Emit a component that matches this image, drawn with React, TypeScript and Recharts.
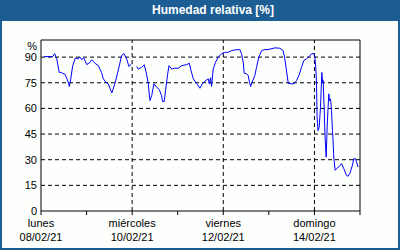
import React from "react";
import { LineChart, Line, XAxis, YAxis, ReferenceLine } from "recharts";

// hours since lunes 08/02/21 00:00
const hours = [
  1.6, 6.2, 7.2, 8.3, 9.6, 10.4, 12.6, 13.8, 14.6, 14.9, 15.6, 16.7, 18.1, 19.6, 20.5, 21.4, 22.6,
  24.1, 25.8, 26.7, 28.4, 30.2, 31.9, 32.8, 34.2, 35.4, 37.3, 38.9, 40.4, 42.5, 43.7, 45.1, 46.3,
  47.7, 49, 50.4, 51.2, 53, 54.4, 55.6, 56.5, 57, 57.4, 58.3, 59.5, 60.9, 62.3, 63.5, 64, 64.9,
  65.6, 66.7, 67.4, 68.8, 70.2, 72.3, 74.1, 76.7, 78.1, 78.8, 80.2, 81.9, 83.7, 85.1, 86.3, 88.1,
  88.6, 89.3, 89.8, 90.7, 91.9, 93.3, 95.1, 96.8, 98.6, 100.4, 102.1, 104.7, 105.6, 106.5, 107,
  108.3, 109.1, 109.8, 110.4, 111.2, 112.6, 113.5, 114.7, 116.2, 117.9, 119.6, 123.2, 125.8,
  127.5, 128.4, 129.3, 130.2, 131.6, 133.3, 134.6, 135.8, 137.2, 138.4, 139.8, 141.2, 142.5,
  143.7, 144.2, 144.7, 145.1, 145.4, 145.9, 146.5, 147.2, 147.9, 148.3, 148.6, 149.1, 149.6,
  150.2, 150.7, 151.2, 151.6, 151.9, 152.5, 153, 153.5, 153.8, 154.2, 154.9, 155.6, 157, 158.3,
  159.5, 160.9, 161.7, 162.6, 164, 164.7, 165.6, 166.2, 167,
];

const humidity: (number | null)[] = [
  90.3, 90.3, 92, 89, 81, 81, 80, 77, 74.4, 72.8, 76.7, 85, 89.5, 89, 90, 88.5, 89.5,
  85.6, 87, 88.4, 86.4, 85, 81, 77.3, 75.3, 74.4, 69, 74.4, 81, 91, 92, 89, 84.5,
  86, null, 84.5, 83, 84, 85.5, 80, 74.4, 68.5, 64.6, 67.5, 74.4, 72.4, 71, 67.5, 64, 64,
  70.5, 80, 85, 83, 83.5, 83.5, 85, 85.6, 86.4, 83, 77.3, 74.7, 71.8, 74.7, 75.9, 77.3,
  74.4, 77.9, 72.8, 83, 87, 90, 92, 92.8, 92.8, 93.8, 94.2, 94.4, 92, 87, 80.6,
  80.2, 79.2, 75.3, 72.8, 75.3, 79.2, 84, 90, 93.8, 94.4, 94.4, 95.4, 95.2,
  93.8, 89, 82, 74.7, 74.4, 74.4, 76.3, 79.2, 84, 88, 89, 90.3, 92,
  92, 90.3, 84, 74.4, 54.9, 47, 49, 60.7, 81, 75.3, 76.3, 60.7, 43.2,
  31.5, 49, 60.7, 68.5, 64.6, 65.6, 58.8, 47, 41.3, 31.5, 23.8, 24.7, 26, 27.7,
  24.7, 20.8, 20.3, 21.8, 26.7, 30.6, 30.6, 28.6, 25.7,
];

const xTicks = [0, 24, 48, 72, 96, 120, 144, 168];
const dayNames: Record<number, string> = { 0: "lunes", 48: "miércoles", 96: "viernes", 144: "domingo" };
const dayDates: Record<number, string> = { 0: "08/02/21", 48: "10/02/21", 96: "12/02/21", 144: "14/02/21" };
const yTicks = [0, 15, 30, 45, 60, 75, 90, 100];
const gridY = [15, 30, 45, 60, 75, 90];
const gridX = [48, 96, 144];

const data = hours.map((h, i) => ({ h, v: humidity[i] }));

const FONT = "'Liberation Sans', Arial, sans-serif";

function XTick({ x, y, payload }: any) {
  const name = dayNames[payload.value];
  if (!name) return null;
  return (
    <text x={x} y={y} textAnchor="middle" fontSize={11} fontFamily={FONT} fill="#000">
      <tspan x={x} dy={12}>{name}</tspan>
      <tspan x={x} dy={14}>{dayDates[payload.value]}</tspan>
    </text>
  );
}

function YTick({ x, y, payload }: any) {
  const label = payload.value === 100 ? "%" : String(payload.value);
  const dy = payload.value === 100 ? 10 : 4;
  return (
    <text x={x} y={y + dy} textAnchor="end" fontSize={11} fontFamily={FONT} fill="#000">
      {label}
    </text>
  );
}

export default function App() {
  return (
    <div
      style={{
        position: "absolute",
        left: 0,
        top: 0,
        width: 400,
        height: 250,
        background: "#1c5e94",
        fontFamily: FONT,
      }}
    >
      <div
        style={{
          position: "absolute",
          left: 0,
          top: 0,
          width: 400,
          height: 21,
          lineHeight: "21px",
          color: "#fff",
          fontWeight: "bold",
          fontSize: 12,
          textAlign: "center",
          paddingLeft: 26,
          boxSizing: "border-box",
        }}
      >
        Humedad relativa [%]
      </div>
      <div
        style={{
          position: "absolute",
          left: 2,
          top: 21,
          width: 396,
          height: 227,
          background: "#fdfffd",
        }}
      />
      <div style={{ position: "absolute", left: 0, top: 0 }}>
        <LineChart width={400} height={250} data={data} margin={{ top: 40, right: 40, bottom: 0, left: 0 }}>
          {gridY.map((v) => (
            <ReferenceLine key={"y" + v} y={v} stroke="#000" strokeDasharray="4 3" />
          ))}
          {gridX.map((v) => (
            <ReferenceLine key={"x" + v} x={v} stroke="#000" strokeDasharray="4 3" />
          ))}
          <ReferenceLine y={100} stroke="#000" />
          <ReferenceLine x={168} stroke="#000" />
          <XAxis
            dataKey="h"
            type="number"
            domain={[0, 168]}
            ticks={xTicks}
            interval={0}
            height={39}
            tickSize={4}
            tickMargin={0}
            stroke="#000"
            tickLine={{ stroke: "#000" }}
            axisLine={{ stroke: "#000" }}
            tick={<XTick />}
          />
          <YAxis
            type="number"
            domain={[0, 100]}
            ticks={yTicks}
            interval={0}
            width={41}
            tickSize={0}
            tickMargin={4}
            tickLine={false}
            axisLine={{ stroke: "#000" }}
            tick={<YTick />}
          />
          <Line
            type="linear"
            dataKey="v"
            stroke="#0000ff"
            strokeWidth={1}
            dot={false}
            connectNulls={false}
            isAnimationActive={false}
          />
        </LineChart>
      </div>
    </div>
  );
}
